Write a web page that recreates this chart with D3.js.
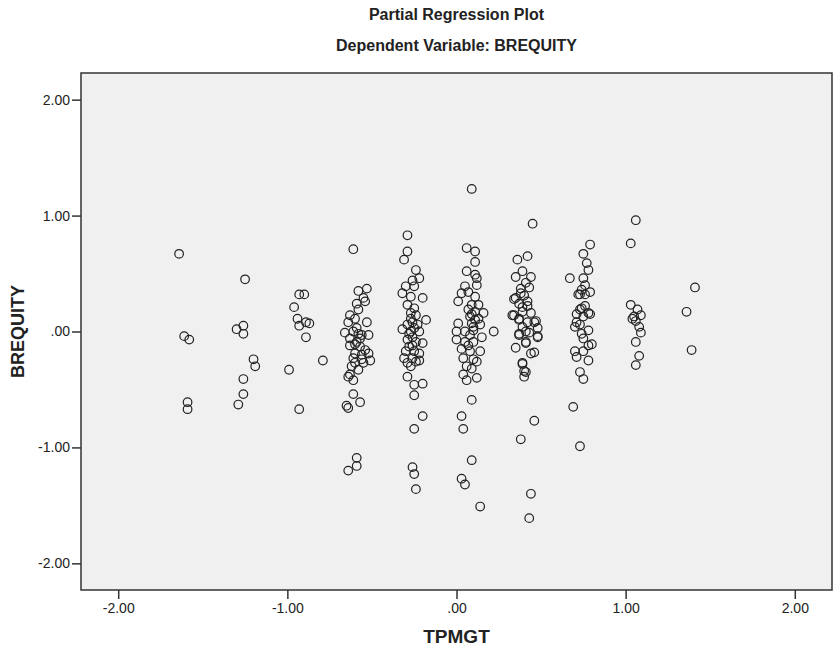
<!DOCTYPE html>
<html>
<head>
<meta charset="utf-8">
<script src="https://cdn.jsdelivr.net/npm/d3@7"></script>
<style>
  body { margin: 0; background: #fff; }
  svg { font-family: "Liberation Sans", Arial, sans-serif; }
  .tick text { font-size: 14px; fill: #222; }
  .tick line { stroke: #333; stroke-width: 1.5; }
</style>
</head>
<body>
<svg></svg>
<script>
const w = 833;
const h = 654;
const plot = { left: 81, right: 832, top: 73, bottom: 590 };

const xTicks = [-2, -1, 0, 1, 2];
const xTickLabels = ["-2.00", "-1.00", ".00", "1.00", "2.00"];
const yTicks = [-2, -1, 0, 1, 2];
const yTickLabels = ["-2.00", "-1.00", ".00", "1.00", "2.00"];

// [TPMGT, BREQUITY] pairs, grouped by the visible columns
const groupA = [[-1.64,0.67],[-1.61,-0.04],[-1.58,-0.07],[-1.59,-0.61],[-1.59,-0.67]];
const groupB = [[-1.25,0.45],[-1.30,0.02],[-1.26,0.05],[-1.26,-0.02],[-1.20,-0.24],[-1.19,-0.30],
  [-1.26,-0.41],[-1.26,-0.54],[-1.29,-0.63]];
const groupC = [[-0.93,0.32],[-0.90,0.32],[-0.96,0.21],[-0.94,0.11],[-0.89,0.08],[-0.87,0.07],
  [-0.93,0.05],[-0.89,-0.05],[-0.99,-0.33],[-0.79,-0.25],[-0.93,-0.67]];
const groupD = [[-0.61,0.71],[-0.58,0.35],[-0.53,0.37],[-0.55,0.29],[-0.54,0.26],[-0.59,0.24],
  [-0.63,0.14],[-0.64,0.08],[-0.60,0.11],[-0.53,0.08],[-0.66,-0.01],[-0.61,0.00],[-0.58,-0.02],
  [-0.56,-0.03],[-0.52,-0.03],[-0.63,-0.06],[-0.59,-0.09],[-0.63,-0.12],[-0.57,-0.13],[-0.54,-0.16],
  [-0.60,-0.19],[-0.52,-0.19],[-0.61,-0.23],[-0.56,-0.24],[-0.51,-0.25],[-0.60,-0.27],[-0.55,-0.27],
  [-0.62,-0.30],[-0.58,-0.33],[-0.63,-0.37],[-0.64,-0.39],[-0.61,-0.42],[-0.61,-0.54],[-0.57,-0.61],
  [-0.64,-0.66],[-0.65,-0.64],[-0.64,-1.20],[-0.59,-1.09],[-0.59,-1.16],[-0.59,0.03],[-0.57,-0.06],
  [-0.60,-0.11],[-0.58,0.19],[-0.56,-0.20]];
const groupE = [[-0.29,0.83],[-0.29,0.69],[-0.31,0.62],[-0.24,0.53],[-0.22,0.46],[-0.26,0.44],
  [-0.30,0.39],[-0.25,0.39],[-0.32,0.33],[-0.20,0.29],[-0.27,0.30],[-0.29,0.23],[-0.25,0.20],
  [-0.27,0.16],[-0.24,0.14],[-0.18,0.10],[-0.26,0.08],[-0.29,0.06],[-0.23,0.06],[-0.32,0.02],
  [-0.27,0.00],[-0.22,0.00],[-0.26,-0.05],[-0.29,-0.07],[-0.24,-0.09],[-0.20,-0.10],[-0.28,-0.13],
  [-0.30,-0.17],[-0.25,-0.17],[-0.22,-0.19],[-0.31,-0.23],[-0.26,-0.23],[-0.29,-0.27],[-0.24,-0.26],
  [-0.22,-0.25],[-0.27,-0.30],[-0.29,-0.39],[-0.25,-0.46],[-0.20,-0.45],[-0.25,-0.55],[-0.20,-0.73],
  [-0.25,-0.84],[-0.26,-1.17],[-0.25,-1.23],[-0.24,-1.36],[-0.27,0.11],[-0.25,0.03],[-0.28,-0.02],
  [-0.26,-0.12]];
const groupF = [[0.09,1.23],[0.06,0.72],[0.11,0.69],[0.11,0.60],[0.06,0.52],[0.11,0.49],[0.12,0.46],
  [0.05,0.39],[0.12,0.40],[0.03,0.33],[0.07,0.34],[0.01,0.26],[0.11,0.30],[0.09,0.23],[0.13,0.23],
  [0.07,0.19],[0.11,0.17],[0.16,0.16],[0.08,0.13],[0.13,0.11],[0.01,0.07],[0.09,0.07],[0.14,0.06],
  [0.22,0.00],[0.00,0.00],[0.05,0.00],[0.10,0.01],[0.15,-0.05],[0.00,-0.07],[0.05,-0.09],[0.10,-0.09],
  [0.03,-0.15],[0.14,-0.17],[0.08,-0.17],[0.04,-0.23],[0.10,-0.24],[0.12,-0.26],[0.06,-0.30],
  [0.09,-0.32],[0.04,-0.37],[0.12,-0.40],[0.06,-0.42],[0.09,-0.59],[0.03,-0.73],[0.04,-0.84],
  [0.09,-1.11],[0.03,-1.27],[0.05,-1.32],[0.14,-1.51],[0.09,0.15],[0.10,0.04],[0.08,-0.03],
  [0.11,0.10],[0.07,-0.12]];
const groupG = [[0.45,0.93],[0.42,0.65],[0.36,0.62],[0.39,0.52],[0.35,0.47],[0.44,0.47],[0.41,0.42],
  [0.38,0.37],[0.43,0.38],[0.35,0.29],[0.40,0.31],[0.37,0.24],[0.42,0.26],[0.34,0.14],[0.39,0.17],
  [0.44,0.16],[0.37,0.10],[0.42,0.08],[0.46,0.08],[0.39,0.04],[0.48,0.03],[0.37,-0.02],[0.43,-0.01],
  [0.48,-0.04],[0.41,-0.09],[0.35,-0.14],[0.46,-0.18],[0.39,-0.28],[0.41,-0.35],[0.40,-0.39],
  [0.46,-0.77],[0.38,-0.93],[0.44,-1.40],[0.43,-1.61],[0.34,0.28],[0.39,0.21],[0.33,0.14],
  [0.37,0.11],[0.47,0.09],[0.41,0.00],[0.37,-0.03],[0.48,-0.05],[0.41,-0.10],[0.44,-0.19],
  [0.39,-0.27],[0.40,-0.34],[0.42,0.22],[0.38,0.33]];
const groupH = [[0.79,0.75],[0.75,0.67],[0.77,0.59],[0.78,0.53],[0.67,0.46],[0.75,0.46],[0.76,0.40],
  [0.74,0.36],[0.79,0.34],[0.72,0.32],[0.76,0.32],[0.74,0.20],[0.79,0.15],[0.71,0.15],[0.75,0.13],
  [0.71,0.08],[0.70,0.04],[0.78,0.01],[0.74,-0.02],[0.75,-0.06],[0.80,-0.11],[0.70,-0.17],
  [0.75,-0.17],[0.71,-0.22],[0.78,-0.25],[0.73,-0.35],[0.75,-0.41],[0.69,-0.65],[0.73,-0.99],
  [0.73,0.32],[0.76,0.22],[0.73,0.19],[0.78,0.16],[0.73,0.06],[0.78,-0.12]];
const groupI = [[1.06,0.96],[1.03,0.76],[1.03,0.23],[1.07,0.19],[1.09,0.14],[1.04,0.11],[1.06,0.09],
  [1.05,0.13],[1.08,0.04],[1.09,-0.01],[1.06,-0.09],[1.08,-0.21],[1.06,-0.29]];
const groupJ = [[1.41,0.38],[1.36,0.17],[1.39,-0.16]];

const points = [].concat(groupA, groupB, groupC, groupD, groupE, groupF, groupG, groupH, groupI, groupJ);

const svg = d3.select("svg").attr("width", w).attr("height", h);

const xScale = d3.scaleLinear().domain([-2.22, 2.22]).range([plot.left, plot.right]);
const yScale = d3.scaleLinear().domain([-2.23, 2.23]).range([plot.bottom, plot.top]);

/** Plot background */
svg.append("rect")
  .attr("x", plot.left)
  .attr("y", plot.top)
  .attr("width", plot.right - plot.left)
  .attr("height", plot.bottom - plot.top)
  .attr("fill", "#f0f0f0");

/** Axes */
const xAxis = d3.axisBottom(xScale)
  .tickValues(xTicks)
  .tickFormat((d, i) => xTickLabels[i])
  .tickSize(9)
  .tickPadding(4);
svg.append("g")
  .attr("transform", `translate(0,${plot.bottom})`)
  .call(xAxis)
  .call((g) => g.select(".domain").remove());

const yAxis = d3.axisLeft(yScale)
  .tickValues(yTicks)
  .tickFormat((d, i) => yTickLabels[i])
  .tickSize(9)
  .tickPadding(2);
svg.append("g")
  .attr("transform", `translate(${plot.left},0)`)
  .call(yAxis)
  .call((g) => g.select(".domain").remove());

svg.selectAll(".tick text").attr("font-family", null);

/** Points */
svg.append("g")
  .selectAll("circle")
  .data(points)
  .enter()
  .append("circle")
  .attr("cx", (d) => xScale(d[0]))
  .attr("cy", (d) => yScale(d[1]))
  .attr("r", 4.3)
  .attr("fill", "none")
  .attr("stroke", "#222")
  .attr("stroke-width", 1.2);

/** Frame */
svg.append("rect")
  .attr("x", plot.left)
  .attr("y", plot.top)
  .attr("width", plot.right - plot.left)
  .attr("height", plot.bottom - plot.top)
  .attr("fill", "none")
  .attr("stroke", "#333")
  .attr("stroke-width", 1.5);

/** Titles */
const cx = (plot.left + plot.right) / 2;
svg.append("text")
  .attr("x", cx).attr("y", 20)
  .attr("text-anchor", "middle")
  .attr("font-size", 16).attr("font-weight", "bold").attr("fill", "#222")
  .text("Partial Regression Plot");
svg.append("text")
  .attr("x", cx).attr("y", 51)
  .attr("text-anchor", "middle")
  .attr("font-size", 16).attr("font-weight", "bold").attr("fill", "#222")
  .text("Dependent Variable: BREQUITY");
svg.append("text")
  .attr("x", cx).attr("y", 643)
  .attr("text-anchor", "middle")
  .attr("font-size", 19).attr("font-weight", "bold").attr("fill", "#222")
  .text("TPMGT");
svg.append("text")
  .attr("transform", `translate(24,${(plot.top + plot.bottom) / 2}) rotate(-90)`)
  .attr("text-anchor", "middle")
  .attr("font-size", 18).attr("font-weight", "bold").attr("fill", "#222")
  .text("BREQUITY");
</script>
</body>
</html>
